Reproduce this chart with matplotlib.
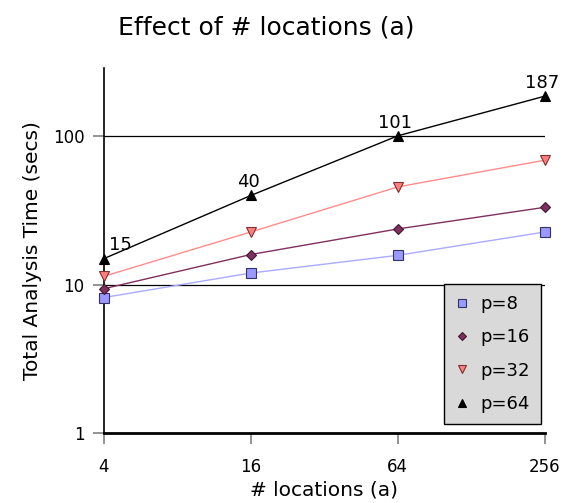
import matplotlib
matplotlib.use("Agg")
import matplotlib.pyplot as plt
from matplotlib.ticker import FixedLocator, NullLocator, FixedFormatter

plt.rcParams['font.family'] = ['DejaVu Sans']

locations = [4, 16, 64, 256]
p8 = [8.2, 12.0, 15.8, 22.7]
p16 = [9.4, 16.0, 23.8, 33.3]
p32 = [11.4, 22.7, 45.7, 69.2]
p64 = [15, 40, 101, 187]
labels_p64 = ["15", "40", "101", "187"]
series_names = ["p=8", "p=16", "p=32", "p=64"]
y_ticks = [1, 10, 100]
x_tick_labels = ["4", "16", "64", "256"]

fig = plt.figure(figsize=(5.64, 5.03), dpi=100)
ax = fig.add_axes([0.184, 0.139, 0.782, 0.726])

styles = [
    dict(line='#aaaaff', marker='s', mfc='#9999ff', mec='#333366', ms=7),
    dict(line='#803060', marker='D', mfc='#80305e', mec='#40182f', ms=5.5),
    dict(line='#ff8c8c', marker='v', mfc='#ff7f7f', mec='#803030', ms=7.5),
    dict(line='#000000', marker='^', mfc='#000000', mec='#000000', ms=7.5),
]
data = [p8, p16, p32, p64]
lines = []
for vals, st, name in zip(data, styles, series_names):
    ax.plot(locations, vals, color=st['line'], lw=1.0, zorder=3)
    h, = ax.plot(locations, vals, linestyle='none', marker=st['marker'],
                 mfc=st['mfc'], mec=st['mec'], ms=st['ms'], mew=0.8,
                 zorder=4, label=name, clip_on=False)
    lines.append(h)

for x, y, t in zip(locations, p64, labels_p64):
    dx = 12 if x == 4 else -2
    ax.annotate(t, (x, y), xytext=(dx, 3), textcoords='offset points',
                ha='center', va='bottom', fontsize=13)

ax.set_xscale('log', base=2)
ax.set_yscale('log')
ax.set_xlim(4, 256)
ax.set_ylim(1, 290)
ax.xaxis.set_major_locator(FixedLocator(locations))
ax.xaxis.set_major_formatter(FixedFormatter(x_tick_labels))
ax.xaxis.set_minor_locator(NullLocator())
ax.yaxis.set_major_locator(FixedLocator(y_ticks))
ax.yaxis.set_major_formatter(FixedFormatter([str(v) for v in y_ticks]))
ax.yaxis.set_minor_locator(NullLocator())

for yv in y_ticks[1:]:
    ax.axhline(yv, color='black', lw=0.9, zorder=1)

for s in ['top', 'right']:
    ax.spines[s].set_visible(False)
ax.spines['left'].set_linewidth(1.2)
ax.spines['bottom'].set_linewidth(2.0)
ax.tick_params(axis='both', which='major', direction='out', length=8,
               color='#808080', width=1.2, labelsize=12, pad=10)
ax.tick_params(axis='y', pad=6)

ax.set_xlabel('# locations (a)', fontsize=14.5, labelpad=3)
ax.set_ylabel('Total Analysis Time (secs)', fontsize=14.5, labelpad=8)
fig.text(0.472, 0.945, 'Effect of # locations (a)', ha='center', va='center', fontsize=18)

leg = ax.legend(handles=lines, loc='lower right', bbox_to_anchor=(0.991, 0.025),
                borderaxespad=0,
                frameon=True, fancybox=False, fontsize=13, handlelength=0.8,
                handletextpad=0.6, labelspacing=0.85, borderpad=0.6,
                markerscale=0.8)
leg.get_frame().set_facecolor('#d9d9d9')
leg.get_frame().set_edgecolor('#000000')
leg.get_frame().set_linewidth(1.0)
leg.get_frame().set_alpha(1)

fig.savefig('out.png', dpi=100)
